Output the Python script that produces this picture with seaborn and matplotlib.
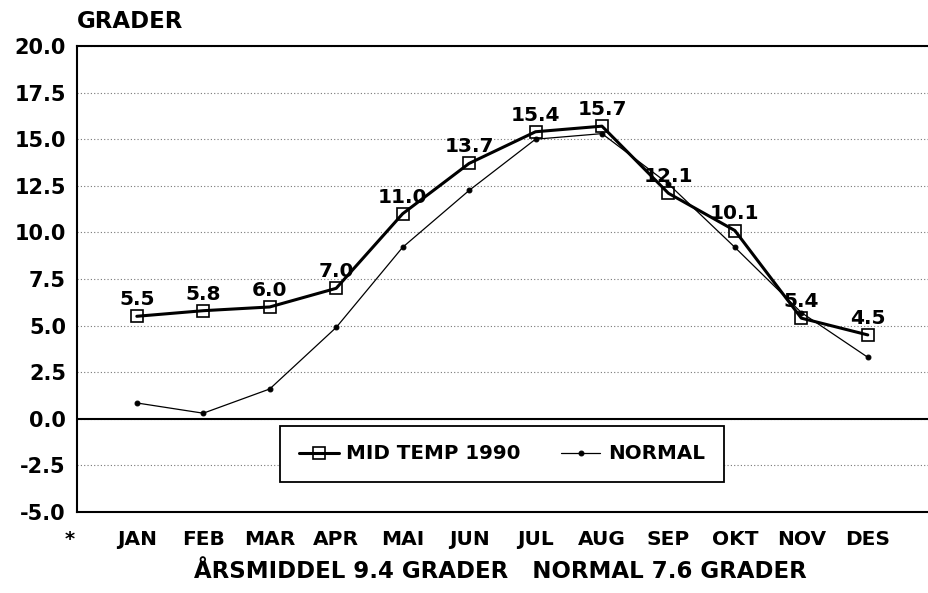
import numpy as np
import pandas as pd
import matplotlib
matplotlib.use('Agg')
import matplotlib.pyplot as plt
import seaborn as sns

# Data
months = ['JAN', 'FEB', 'MAR', 'APR', 'MAI', 'JUN', 'JUL', 'AUG', 'SEP', 'OKT', 'NOV', 'DES']
mid_temp_1990 = [5.5, 5.8, 6.0, 7.0, 11.0, 13.7, 15.4, 15.7, 12.1, 10.1, 5.4, 4.5]
normal = [0.85, 0.3, 1.6, 4.9, 9.2, 12.25, 15.0, 15.3, 12.6, 9.2, 5.7, 3.3]
y_ticks = [-5.0, -2.5, 0.0, 2.5, 5.0, 7.5, 10.0, 12.5, 15.0, 17.5, 20.0]

df = pd.DataFrame({'pos': np.arange(len(months)), 'month': months,
                   'mid': mid_temp_1990, 'normal': normal})

sns.set_style('white')
plt.rcParams['font.family'] = ['DejaVu Sans']
plt.rcParams['font.weight'] = 'bold'
plt.rcParams['text.color'] = 'black'

fig = plt.figure(figsize=(9.29, 5.93), dpi=100)
ax = fig.add_axes([0.0829, 0.1366, 0.917, 0.7858])

# zero line
ax.axhline(0, color='black', lw=1.5, zorder=1)

sns.lineplot(data=df, x='pos', y='mid', ax=ax, color='black', lw=2.2,
             marker='s', markersize=9, markerfacecolor='none',
             markeredgecolor='black', markeredgewidth=1.2,
             label='MID TEMP 1990', zorder=4)
sns.lineplot(data=df, x='pos', y='normal', ax=ax, color='black', lw=0.9,
             marker='o', markersize=3.5, markeredgecolor='black',
             label='NORMAL', zorder=3)

# value labels over the 1990 series
for i, v in enumerate(mid_temp_1990):
    ax.annotate(f'{v:.1f}', (i, v), xytext=(0, 12), textcoords='offset points',
                ha='center', va='center', fontsize=14.5, fontweight='bold',
                color='black')

ax.set_xlim(-0.9, 11.92)
ax.set_ylim(-5, 20)
ax.set_xticks(df['pos'])
ax.set_xticklabels(months, fontsize=14.5, fontweight='bold')
ax.set_yticks(y_ticks)
ax.set_yticklabels([f'{t:.1f}' for t in y_ticks], fontsize=15, fontweight='bold')
ax.set_xlabel('')
ax.set_ylabel('')

ax.yaxis.grid(True, linestyle=(0, (1, 2)), color='#777777', lw=0.8)
ax.xaxis.grid(False)
ax.set_axisbelow(True)

for side in ['left', 'top', 'bottom']:
    ax.spines[side].set_color('black')
    ax.spines[side].set_linewidth(1.5)
ax.spines['right'].set_visible(False)

ax.tick_params(axis='y', direction='in', length=9, width=1, pad=8, colors='black')
ax.tick_params(axis='x', direction='in', length=11, width=1, pad=13, colors='black')

leg = ax.legend(loc='center', bbox_to_anchor=(0.499, 0.1245), ncol=2,
                frameon=True, fancybox=False, edgecolor='black',
                prop={'size': 14.3, 'weight': 'bold'}, handlelength=2.0,
                columnspacing=2.0, borderpad=0.95, handletextpad=0.4,
                labelcolor='black')
leg.get_frame().set_linewidth(1.3)
leg.get_frame().set_alpha(1)

fig.text(77 / 929, 1 - 21 / 593, 'GRADER', ha='left', va='center',
         fontsize=16.5, fontweight='bold')
fig.text(70 / 929, 1 - 539 / 593, '*', ha='center', va='center',
         fontsize=14, fontweight='bold')
fig.text(500 / 929, 1 - 572 / 593, 'ÅRSMIDDEL 9.4 GRADER   NORMAL 7.6 GRADER',
         ha='center', va='center', fontsize=16.5, fontweight='bold')

fig.savefig('out.png', dpi=100)
